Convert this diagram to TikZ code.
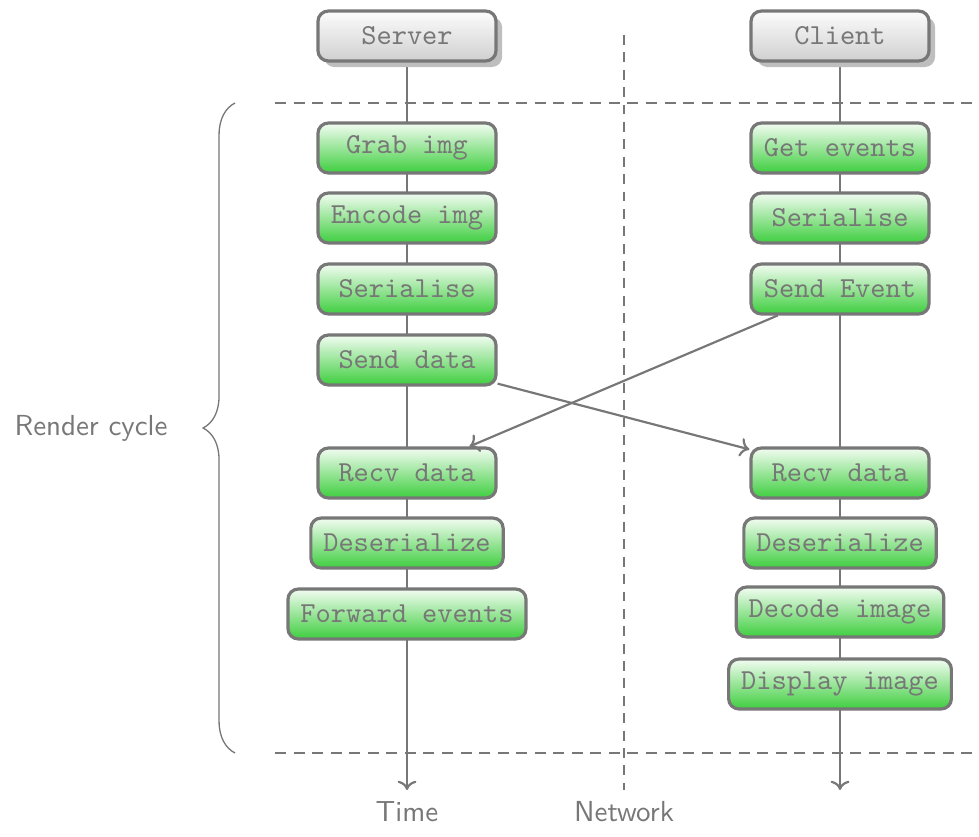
\documentclass[tikz,border=0pt]{standalone}
\usetikzlibrary{shadows,decorations.pathreplacing,arrows.meta,backgrounds}
\definecolor{ink}{HTML}{777777}
\definecolor{gtop}{RGB}{242,252,242}
\definecolor{gbot}{RGB}{62,206,62}
\definecolor{htop}{RGB}{252,252,252}
\definecolor{hbot}{RGB}{208,208,208}
\definecolor{shad}{RGB}{190,190,190}
\begin{document}
\begin{tikzpicture}[x=0.345pt,y=-0.345pt,
  box/.style={draw=ink, line width=1.1pt, rounded corners=3.5pt, minimum width=61.4pt,
    minimum height=17.2pt, inner xsep=4.3pt, inner ysep=0pt, top color=gtop, bottom color=gbot,
    text=ink, font=\ttfamily},
  head/.style={box, top color=htop, bottom color=hbot,
    drop shadow={shadow xshift=2.1pt, shadow yshift=-2.1pt, fill=shad, opacity=1}},
  conn/.style={draw=ink, line width=0.75pt},
  tip/.style={-{Computer Modern Rightarrow[length=3.2pt,width=6.5pt]}},
  sep/.style={draw=ink, line width=0.75pt, dash pattern=on 3.8pt off 2.6pt},
  vsep/.style={draw=ink, line width=0.45pt, dash pattern=on 3.4pt off 2.6pt},
  lab/.style={text=ink, font=\sffamily}]
\useasboundingbox (0,0) rectangle (979,836);

% headers
\node[head] (server) at (407,36) {Server};
\node[head] (client) at (840,36) {Client};

% server steps
\node[box] (grab) at (407,148) {Grab img};
\node[box] (enc)  at (407,218) {Encode img};
\node[box] (serS) at (407,289) {Serialise};
\node[box] (sendS) at (407,360) {Send data};
\node[box] (recvS) at (407,473) {Recv data};
\node[box] (desS) at (407,543) {Deserialize};
\node[box] (fwd)  at (407,614) {Forward events};

% client steps
\node[box] (getev) at (840,148) {Get events};
\node[box] (serC)  at (840,218) {Serialise};
\node[box] (sendC) at (840,289) {Send Event};
\node[box] (recvC) at (840,473) {Recv data};
\node[box] (desC)  at (840,543) {Deserialize};
\node[box] (dec)   at (840,612) {Decode image};
\node[box] (disp)  at (840,684) {Display image};

% labels
\node[lab] (time) at (407,812) {Time};
\node[lab] (net)  at (624,812) {Network};
\node[lab] (rc)   at (91,428) {Render cycle};

\coordinate (endS) at (407,790);
\coordinate (endC) at (840,790);
\coordinate (h1a) at (275,103);
\coordinate (h1b) at (979,103);
\coordinate (h2a) at (275,753);
\coordinate (h2b) at (979,753);
\coordinate (vtop) at (624,35);
\coordinate (vbot) at (624,790);
\coordinate (bt) at (235,103);
\coordinate (bb) at (235,753);

\begin{scope}[on background layer]
  \draw[conn,tip] (server) -- (endS);
  \draw[conn,tip] (client) -- (endC);
  \draw[vsep] (vtop) -- (vbot);
  \draw[sep] (h1a) -- (h1b);
  \draw[sep] (h2a) -- (h2b);
\end{scope}

\draw[conn,tip] (sendS) -- (recvC);
\draw[conn,tip] (sendC) -- (recvS);

\draw[draw=ink, line width=0.45pt, decorate, decoration={brace, amplitude=11pt}] (bb) -- (bt);
\end{tikzpicture}
\end{document}
